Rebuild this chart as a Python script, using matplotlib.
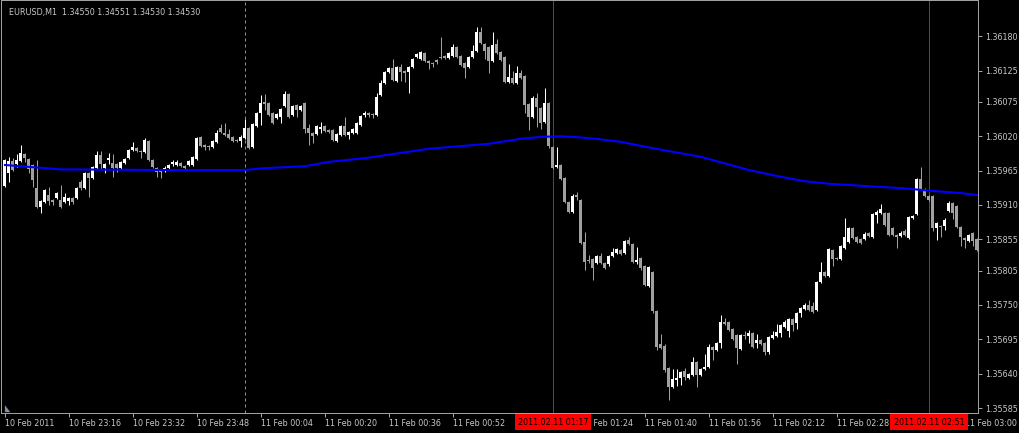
import matplotlib
matplotlib.use("Agg")
import matplotlib.pyplot as plt
import matplotlib.transforms as mtransforms
import numpy as np

# prices are stored in points (1e-5) above 1.35500
base = 1.35500

open_pts = [440, 461, 480, 476, 480, 492, 484, 474, 437, 407,
            415, 426, 418, 421, 418, 415, 416, 421, 421, 447,
            437, 461, 453, 469, 490, 469, 482, 477, 476, 469,
            477, 485, 498, 501, 496, 495, 512, 482, 469, 464,
            466, 469, 476, 474, 477, 472, 474, 474, 484, 519,
            506, 504, 503, 511, 533, 525, 524, 519, 514, 512,
            517, 533, 503, 536, 557, 575, 573, 557, 549, 551,
            568, 588, 554, 570, 562, 573, 533, 525, 524, 532,
            536, 530, 530, 512, 522, 536, 522, 525, 525, 538,
            554, 557, 556, 554, 586, 605, 623, 629, 608, 631,
            624, 623, 631, 647, 644, 653, 640, 637, 642, 647,
            648, 645, 648, 663, 648, 637, 631, 647, 656, 687,
            668, 663, 640, 668, 655, 647, 607, 613, 605, 621,
            616, 572, 551, 581, 565, 543, 573, 503, 471, 474,
            453, 415, 399, 426, 418, 351, 322, 324, 317, 328,
            317, 316, 328, 333, 338, 333, 354, 348, 319, 325,
            312, 280, 303, 240, 188, 184, 149, 119, 130, 133,
            144, 133, 138, 159, 138, 148, 151, 183, 178, 189,
            223, 223, 212, 202, 180, 202, 200, 205, 189, 194,
            189, 175, 197, 200, 205, 215, 208, 228, 221, 237,
            244, 250, 248, 242, 287, 303, 296, 338, 325, 324,
            341, 351, 373, 359, 356, 356, 365, 359, 394, 397,
            397, 397, 373, 362, 360, 368, 357, 389, 396, 452,
            432, 424, 424, 373, 376, 376, 400, 413, 408, 375,
            357, 352, 365, 356]

high_pts = [484, 487, 485, 492, 506, 493, 485, 476, 482, 418,
            436, 439, 420, 431, 442, 429, 423, 423, 439, 450,
            463, 463, 472, 496, 496, 477, 493, 492, 477, 480,
            485, 500, 511, 503, 498, 517, 514, 484, 471, 466,
            472, 476, 482, 482, 479, 474, 482, 488, 519, 520,
            508, 506, 514, 530, 540, 541, 532, 520, 516, 522,
            548, 535, 541, 559, 586, 588, 575, 559, 557, 565,
            592, 589, 570, 572, 570, 575, 540, 527, 538, 543,
            538, 532, 532, 525, 538, 551, 528, 533, 543, 554,
            560, 559, 557, 589, 610, 624, 631, 644, 632, 636,
            626, 632, 645, 653, 656, 655, 642, 639, 644, 679,
            650, 655, 668, 664, 650, 639, 648, 666, 695, 695,
            669, 664, 687, 676, 656, 648, 636, 624, 632, 626,
            618, 573, 584, 589, 567, 597, 575, 504, 503, 476,
            455, 416, 428, 431, 420, 367, 330, 325, 330, 333,
            319, 330, 341, 341, 340, 354, 359, 349, 343, 327,
            314, 312, 304, 242, 204, 188, 151, 148, 148, 144,
            149, 141, 167, 160, 149, 172, 188, 184, 191, 234,
            229, 224, 213, 204, 204, 208, 210, 207, 204, 196,
            191, 200, 208, 220, 220, 226, 229, 229, 239, 247,
            253, 258, 255, 288, 319, 304, 341, 340, 327, 346,
            389, 375, 375, 360, 357, 367, 367, 397, 402, 412,
            399, 399, 375, 364, 368, 372, 392, 394, 453, 471,
            437, 426, 426, 383, 378, 389, 416, 415, 410, 376,
            359, 364, 367, 357]

low_pts = [439, 447, 464, 471, 479, 479, 461, 439, 405, 397,
           413, 410, 410, 420, 405, 413, 410, 412, 420, 434,
           436, 423, 452, 468, 466, 461, 476, 455, 463, 468,
           476, 484, 496, 495, 485, 493, 480, 469, 455, 453,
           463, 468, 472, 472, 471, 468, 472, 472, 482, 503,
           498, 498, 501, 509, 525, 520, 516, 511, 511, 503,
           516, 500, 501, 535, 538, 562, 552, 540, 548, 541,
           567, 549, 552, 551, 560, 525, 506, 509, 522, 525,
           527, 525, 512, 511, 520, 520, 516, 524, 524, 536,
           551, 551, 549, 552, 584, 604, 621, 608, 607, 608,
           607, 589, 629, 645, 642, 639, 628, 631, 636, 644,
           644, 644, 647, 645, 632, 613, 629, 645, 655, 668,
           644, 621, 639, 652, 640, 605, 605, 604, 604, 612,
           557, 530, 549, 535, 532, 541, 501, 468, 469, 450,
           413, 397, 397, 418, 348, 306, 317, 290, 316, 316,
           308, 312, 327, 332, 330, 332, 346, 317, 316, 306,
           280, 279, 237, 178, 180, 143, 98, 117, 120, 122,
           130, 132, 136, 119, 136, 146, 149, 162, 176, 181,
           218, 208, 194, 156, 178, 196, 189, 181, 181, 186,
           170, 172, 196, 199, 199, 213, 199, 208, 212, 231,
           242, 240, 237, 240, 285, 295, 295, 312, 322, 322,
           340, 349, 356, 349, 348, 354, 359, 357, 381, 396,
           376, 360, 360, 341, 359, 360, 356, 388, 394, 434,
           423, 416, 368, 354, 359, 370, 399, 388, 373, 344,
           341, 351, 344, 336]

close_pts = [482, 480, 466, 482, 493, 485, 468, 450, 407, 416,
             434, 416, 415, 429, 407, 423, 421, 415, 437, 437,
             461, 453, 471, 490, 476, 476, 485, 469, 469, 479,
             484, 498, 503, 496, 495, 514, 482, 471, 463, 463,
             469, 474, 479, 479, 472, 469, 480, 487, 517, 504,
             503, 503, 512, 525, 527, 522, 517, 512, 512, 519,
             533, 501, 540, 557, 573, 572, 554, 541, 556, 564,
             588, 551, 568, 562, 568, 532, 525, 520, 536, 535,
             528, 527, 514, 524, 536, 522, 527, 532, 541, 552,
             557, 554, 554, 583, 605, 623, 629, 610, 631, 623,
             621, 631, 644, 652, 655, 640, 637, 636, 639, 645,
             645, 653, 663, 647, 634, 629, 647, 656, 687, 669,
             656, 640, 666, 653, 642, 607, 615, 605, 621, 613,
             570, 551, 581, 567, 541, 573, 504, 469, 474, 452,
             415, 399, 424, 423, 349, 319, 320, 309, 328, 317,
             309, 328, 335, 340, 332, 352, 348, 319, 322, 309,
             282, 311, 240, 183, 181, 146, 119, 132, 133, 143,
             135, 140, 159, 138, 148, 151, 183, 178, 189, 223,
             220, 210, 196, 181, 202, 200, 205, 183, 194, 188,
             175, 199, 202, 207, 218, 223, 228, 218, 237, 245,
             250, 242, 239, 287, 303, 296, 340, 324, 324, 344,
             359, 373, 357, 351, 349, 364, 360, 396, 399, 404,
             378, 362, 362, 359, 365, 362, 391, 392, 452, 436,
             424, 418, 373, 381, 375, 386, 413, 397, 375, 359,
             354, 362, 352, 338]

# moving average read at a few bars
ma_bars = [0, 6, 10, 14, 40, 60, 65, 75, 81, 90, 106, 121, 129, 134, 139,
           144, 149, 154, 161, 174, 186, 194, 200, 206, 216, 224, 231, 239, 243]
ma_pts = [474, 471, 469, 467, 466, 466, 469, 472, 479, 485, 500, 508, 516, 519, 520,
          518, 515, 511, 502, 487, 466, 455, 448, 444, 440, 437, 433, 429, 426]

price_ticks = [1.36180, 1.36125, 1.36075, 1.36020, 1.35965, 1.35910,
               1.35855, 1.35805, 1.35750, 1.35695, 1.35640, 1.35585]

time_ticks = list(range(0, 244, 16))
time_labels = ['10 Feb 2011', '10 Feb 23:16', '10 Feb 23:32', '10 Feb 23:48',
               '11 Feb 00:04', '11 Feb 00:20', '11 Feb 00:36', '11 Feb 00:52',
               '', '11 Feb 01:24', '11 Feb 01:40', '11 Feb 01:56',
               '11 Feb 02:12', '11 Feb 02:28', '', '11 Feb 03:00']

day_sep = 60
marks = [137, 231]
mark_labels = ['2011.02.11 01:17', '2011.02.11 02:51']
title = 'EURUSD,M1  1.34550 1.34551 1.34530 1.34530'

o = base + np.array(open_pts) / 1e5
h = base + np.array(high_pts) / 1e5
l = base + np.array(low_pts) / 1e5
c = base + np.array(close_pts) / 1e5
x = np.arange(len(o))

txt_col = '#c8c8c8'
axis_col = '#a0a0a0'
fs = 5.8
px = 0.72

fig = plt.figure(figsize=(10.2, 4.33), dpi=100, facecolor='black')
ax = fig.add_axes([1 / 1020, 20 / 433, 977 / 1020, 413 / 433], facecolor='black')

ax.axvline(day_sep, color='#909090', lw=px, ls=(0, (3, 3)), zorder=1)
for m in marks:
    ax.axvline(m, color='#ff0000', lw=px, zorder=1)

cols = np.where(c >= o, '#ffffff', '#a0a0a0')
ax.vlines(x, l, h, colors=cols, lw=px, zorder=2)
ax.bar(x, np.maximum(np.abs(c - o), 1.6e-5), bottom=np.minimum(o, c),
       width=0.75, color=cols, linewidth=0, zorder=3)

ax.plot(ma_bars, base + np.array(ma_pts) / 1e5, color='#0000ff', lw=1.5, zorder=4)

ax.set_xlim(-1, 243.25)
ax.set_ylim(1.355772, 1.36238)

for s in ax.spines.values():
    s.set_color(axis_col)
    s.set_linewidth(px)

ax.yaxis.tick_right()
ax.set_yticks(price_ticks)
ax.set_yticklabels(['%.5f' % p for p in price_ticks])
ax.set_xticks(time_ticks)
ax.set_xticklabels(time_labels)
for lab in ax.get_xticklabels():
    lab.set_horizontalalignment('left')
ax.tick_params(axis='both', colors=axis_col, labelcolor=txt_col, labelsize=fs,
               length=3, width=px, direction='out')
ax.tick_params(axis='y', pad=2)
ax.tick_params(axis='x', pad=1.5)

tr = mtransforms.blended_transform_factory(ax.transData, ax.transAxes)
for m, t in zip(marks, mark_labels):
    ax.text(m, -0.0218, t, transform=tr, ha='center', va='center', fontsize=fs,
            color='black', clip_on=False, zorder=10,
            bbox=dict(boxstyle='square,pad=0.4', facecolor='#ff0000', edgecolor='none'))

# small shift marker in the lower-left corner
ax.fill([0.004, 0.004, 0.0095], [0.002, 0.019, 0.002], transform=ax.transAxes,
        color='#8090a0', lw=0, zorder=5)

fig.text(9 / 1020, 1 - 13 / 433, title, color=txt_col, fontsize=fs, ha='left', va='center')

fig.savefig('out.png', dpi=100, facecolor='black')
